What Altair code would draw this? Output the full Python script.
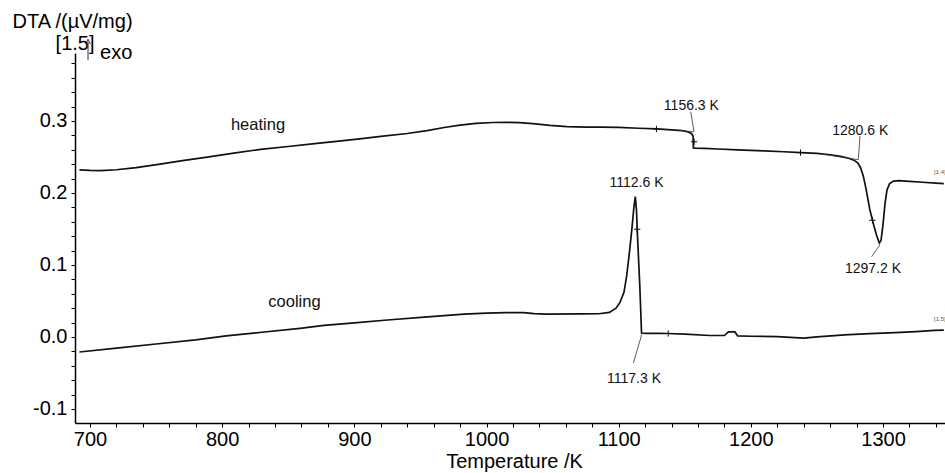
import altair as alt
import pandas as pd

# ---------------- data ----------------
heat_T = [692, 700, 708, 720, 735, 753, 770, 790, 810, 829, 850, 870, 890, 904, 920, 940,
          955, 968, 980, 992, 1005, 1015, 1025, 1035, 1048, 1061, 1075, 1086, 1100, 1115,
          1129, 1140, 1148, 1152, 1155, 1156.3, 1156.5, 1158, 1165, 1175, 1190, 1210, 1225,
          1238, 1250, 1260, 1268, 1274, 1278, 1281, 1283, 1285, 1287, 1290, 1293, 1295,
          1297.2, 1298.5, 1300, 1301.5, 1303, 1305, 1308, 1312, 1320, 1330, 1340, 1346]
heat_v = [0.2320, 0.2312, 0.2310, 0.2322, 0.2352, 0.2400, 0.2448, 0.2500, 0.2555, 0.2605,
          0.2645, 0.2685, 0.2722, 0.2750, 0.2785, 0.2825, 0.2865, 0.2908, 0.2942, 0.2966,
          0.2978, 0.2980, 0.2975, 0.2962, 0.2938, 0.2920, 0.2915, 0.2914, 0.2910, 0.2898,
          0.2888, 0.2875, 0.2865, 0.2850, 0.2825, 0.2790, 0.2625, 0.2622, 0.2618, 0.2610,
          0.2597, 0.2585, 0.2572, 0.2560, 0.2548, 0.2530, 0.2508, 0.2482, 0.2455, 0.2415,
          0.2350, 0.2240, 0.2070, 0.1770, 0.1550, 0.1420, 0.1303, 0.1340, 0.1560, 0.1850,
          0.2040, 0.2130, 0.2165, 0.2170, 0.2160, 0.2148, 0.2135, 0.2128]

cool_T = [692, 720, 750, 780, 803, 830, 859, 877, 900, 925, 953, 983, 1000, 1015, 1028,
          1036, 1045, 1071, 1085, 1093, 1098, 1101, 1104, 1106, 1108, 1110, 1111.5, 1112.6,
          1113.5, 1114, 1116, 1117.3, 1120, 1130, 1137, 1150, 1169, 1180, 1183, 1188, 1190,
          1200, 1220, 1240, 1250, 1271, 1290, 1309, 1325, 1339, 1346]
cool_v = [-0.0209, -0.0155, -0.0098, -0.0040, 0.0015, 0.0065, 0.0120, 0.0160, 0.0195,
          0.0235, 0.0275, 0.0318, 0.0332, 0.0338, 0.0338, 0.0325, 0.0318, 0.0320, 0.0322,
          0.0340, 0.0400, 0.0480, 0.0620, 0.0840, 0.1150, 0.1500, 0.1800, 0.1950, 0.1750,
          0.1500, 0.0700, 0.0055, 0.0050, 0.0050, 0.0048, 0.0040, 0.0020, 0.0020, 0.0070,
          0.0070, 0.0015, 0.0010, 0.0005, -0.0015, 0.0000, 0.0030, 0.0045, 0.0060, 0.0075,
          0.0090, 0.0095]

label_text = ["1156.3 K", "1280.6 K", "1297.2 K", "1112.6 K", "1117.3 K"]
label_T = [1155.0, 1282.8, 1292.4, 1113.5, 1111.6]
label_v = [0.3152, 0.2805, 0.0891, 0.2084, -0.0640]

series_text = ["heating", "cooling"]
series_T = [827.1, 854.7]
series_v = [0.2874, 0.0415]

leader_T = [1154.5, 1282.6, 1297.7, 1117.4, 1146.0, 1255.0]
leader_v = [0.3128, 0.2791, 0.1279, 0.0031, 0.2868, 0.2535]
leader_T2 = [1157.0, 1281.3, 1291.4, 1111.1, 1157.0, 1281.3]
leader_v2 = [0.2851, 0.2461, 0.1117, -0.0362, 0.2848, 0.2461]

cross_T = [1128.6, 1157.1, 1237.6, 1292.0, 1114.0, 1137.5]
cross_v = [0.2888, 0.2710, 0.2560, 0.1620, 0.1496, 0.0048]

tiny_text = ["[1.4]", "[1.5]"]
tiny_T = [1343.0, 1343.0]
tiny_v = [0.2264, 0.0215]

head_text = ["[1.5]"]
head_T = [688.7]
head_v = [0.398]
exo_text = ["exo"]
exo_T = [707.6]
exo_v = [0.3855]
arrow_T = [698.5]
arrow_v = [0.3845]
arrow_v2 = [0.4100]

x_ticks = [700, 720, 740, 760, 780, 800, 820, 840, 860, 880, 900, 920, 940, 960, 980,
           1000, 1020, 1040, 1060, 1080, 1100, 1120, 1140, 1160, 1180, 1200, 1220, 1240,
           1260, 1280, 1300, 1320, 1340]
y_ticks = [-0.10, -0.08, -0.06, -0.04, -0.02, 0.0, 0.02, 0.04, 0.06, 0.08, 0.10, 0.12,
           0.14, 0.16, 0.18, 0.20, 0.22, 0.24, 0.26, 0.28, 0.30, 0.32, 0.34, 0.36, 0.38]

# ---------------- styling ----------------
FONT = "Liberation Sans"

xscale = alt.Scale(domain=[688.65, 1346.9], nice=False, zero=False)
yscale = alt.Scale(domain=[-0.1195, 0.3943], nice=False, zero=False)

common_axis = dict(grid=False, tickSize=4, tickWidth=1, tickColor="black",
                   domainColor="black", domainWidth=1.5, labelFont=FONT,
                   labelFontSize=20, labelColor="black", labelOverlap=False,
                   labelFlush=False, titleFont=FONT, titleFontSize=20,
                   titleFontWeight="normal", titleColor="black")

xaxis = alt.Axis(values=x_ticks,
                 labelExpr="datum.value % 100 === 0 ? format(datum.value, 'd') : ''",
                 title="Temperature /K", titleBaseline="alphabetic", titleAlign="center",
                 titleX=439, titleY=44, labelPadding=2, **common_axis)
yaxis = alt.Axis(values=y_ticks,
                 labelExpr="abs(round(datum.value * 100)) % 10 === 0 ? "
                           "(datum.value < -0.001 ? '-' : '') + format(abs(datum.value), '.1f') : ''",
                 title="DTA /(µV/mg)", titleAngle=0, titleAlign="left",
                 titleBaseline="alphabetic", titleX=-63, titleY=-26, labelPadding=4,
                 **common_axis)


def X(field="T"):
    return alt.X(f"{field}:Q", scale=xscale, axis=xaxis)


def Y(field="v"):
    return alt.Y(f"{field}:Q", scale=yscale, axis=yaxis)


curves = pd.DataFrame({
    "T": heat_T + cool_T,
    "v": heat_v + cool_v,
    "series": ["heating"] * len(heat_T) + ["cooling"] * len(cool_T),
    "i": list(range(len(heat_T) + len(cool_T))),
})
labels = pd.DataFrame({"T": label_T, "v": label_v, "t": label_text})
series_lab = pd.DataFrame({"T": series_T, "v": series_v, "t": series_text})
leaders = pd.DataFrame({"T": leader_T, "v": leader_v, "T2": leader_T2, "v2": leader_v2})
crosses = pd.DataFrame({"T": cross_T, "v": cross_v})
tiny = pd.DataFrame({"T": tiny_T, "v": tiny_v, "t": tiny_text})
head = pd.DataFrame({"T": head_T, "v": head_v, "t": head_text})
exo = pd.DataFrame({"T": exo_T, "v": exo_v, "t": exo_text})
arrow = pd.DataFrame({"T": arrow_T, "v": arrow_v, "v2": arrow_v2})

lines = alt.Chart(curves).mark_line(color="#111111", strokeWidth=1.7).encode(
    x=X(), y=Y(), detail="series:N", order="i:Q")

leader_layer = alt.Chart(leaders).mark_rule(color="#333333", strokeWidth=0.8).encode(
    x=X(), y=Y(), x2="T2:Q", y2="v2:Q")

cross_layer = alt.Chart(crosses).mark_point(
    shape="M-1,0L1,0M0,-1L0,1", size=40, filled=False, stroke="#111111",
    strokeWidth=1, opacity=1).encode(x=X(), y=Y())

label_layer = alt.Chart(labels).mark_text(
    font=FONT, fontSize=14, align="center", baseline="alphabetic",
    color="#111111").encode(x=X(), y=Y(), text="t:N")

series_layer = alt.Chart(series_lab).mark_text(
    font=FONT, fontSize=16.5, align="center", baseline="alphabetic",
    color="#111111").encode(x=X(), y=Y(), text="t:N")

tiny_layer = alt.Chart(tiny).mark_text(
    font=FONT, fontSize=6, align="center", baseline="alphabetic",
    color="#555555").encode(x=X(), y=Y(), text="t:N")

head_layer = alt.Chart(head).mark_text(
    font=FONT, fontSize=20, align="center", baseline="alphabetic",
    color="black").encode(x=X(), y=Y(), text="t:N")

exo_layer = alt.Chart(exo).mark_text(
    font=FONT, fontSize=20, align="left", baseline="alphabetic",
    color="black").encode(x=X(), y=Y(), text="t:N")

arrow_line = alt.Chart(arrow).mark_rule(color="#333333", strokeWidth=1).encode(
    x=X(), y=Y(), y2="v2:Q")
arrow_head = alt.Chart(arrow).mark_point(
    shape="M-1,1L0,-1L1,1", size=25, filled=False, stroke="#333333",
    strokeWidth=1, opacity=1).encode(x=X(), y=Y("v2"))

chart = alt.layer(
    lines, leader_layer, cross_layer, label_layer, series_layer, tiny_layer,
    head_layer, exo_layer, arrow_line, arrow_head
).properties(
    width=870, height=370,
    padding={"left": 75, "top": 53, "right": 0, "bottom": 50},
    autosize=alt.AutoSizeParams(type="none"),
    background="white",
).configure_view(strokeWidth=0)

chart.save("out.html", embed_options={"renderer": "svg", "actions": False})
